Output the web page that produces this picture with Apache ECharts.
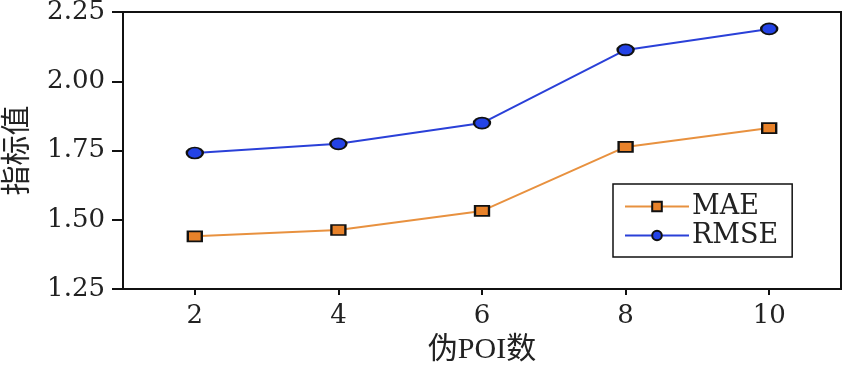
<!DOCTYPE html>
<html>
<head>
<meta charset="utf-8">
<script src="https://cdn.jsdelivr.net/npm/echarts@6/dist/echarts.min.js"></script>
<style>html,body{margin:0;padding:0;background:#fff;}#c{width:846px;height:367px;}</style>
</head>
<body>
<div id="c"></div>
<script>
var xValues = [2, 4, 6, 8, 10];
var maeValues = [1.44, 1.463, 1.532, 1.763, 1.831];
var rmseValues = [1.741, 1.774, 1.849, 2.113, 2.189];
var xTicks = [2, 4, 6, 8, 10];
var seriesNames = ['MAE', 'RMSE'];
var xTitle = '伪POI数';
var yTitle = '指标值';

var FONT = "'DejaVu Serif', 'Noto Sans CJK SC', serif";
var TFONT = "'Liberation Serif', 'Noto Sans CJK SC', serif";
function pairs(xs, ys) { return xs.map(function (x, i) { return [x, ys[i]]; }); }

var chart = echarts.init(document.getElementById('c'), null, { renderer: 'canvas' });
chart.setOption({
  animation: false,
  backgroundColor: '#fff',
  grid: { left: 123, right: 5, top: 12, bottom: 78, outerBoundsMode: 'none', containLabel: false, show: true, borderColor: '#111', borderWidth: 2, backgroundColor: 'transparent' },
  xAxis: {
    type: 'value', min: 1, max: 11,
    name: xTitle, nameLocation: 'middle', nameGap: 46,
    nameTextStyle: { fontFamily: TFONT, fontSize: 30, color: '#222' },
    axisLine: { onZero: false, lineStyle: { color: '#111', width: 2 } },
    axisTick: { show: true, length: 6, lineStyle: { color: '#111', width: 2 }, customValues: xTicks },
    axisLabel: { fontFamily: FONT, fontSize: 26, color: '#222', margin: 14, customValues: xTicks },
    splitLine: { show: false }
  },
  yAxis: {
    type: 'value', min: 1.25, max: 2.25, interval: 0.25,
    name: yTitle, nameLocation: 'middle', nameGap: 90,
    nameTextStyle: { fontFamily: TFONT, fontSize: 30, color: '#222' },
    axisLine: { show: true, lineStyle: { color: '#111', width: 2 } },
    axisTick: { show: true, length: 11, lineStyle: { color: '#111', width: 2 } },
    axisLabel: { fontFamily: FONT, fontSize: 26, color: '#222', margin: 18, formatter: function (v) { return v.toFixed(2); } },
    splitLine: { show: false }
  },
  legend: {
    left: 613, top: 184,
    orient: 'vertical',
    data: seriesNames,
    itemWidth: 64, itemHeight: 12, itemGap: 2,
    padding: [9, 14, 8, 11],
    borderColor: '#111', borderWidth: 1.5, backgroundColor: '#fff',
    textStyle: { fontFamily: FONT, fontSize: 27, color: '#222', padding: [0, 0, 0, -2] }
  },
  series: [
    {
      name: seriesNames[0], type: 'line', data: pairs(xValues, maeValues),
      symbol: 'rect', symbolSize: [14, 10],
      lineStyle: { color: '#e8913f', width: 2 },
      itemStyle: { color: '#e8822a', borderColor: '#111', borderWidth: 2 },
      z: 3
    },
    {
      name: seriesNames[1], type: 'line', data: pairs(xValues, rmseValues),
      symbol: 'circle', symbolSize: [16, 11],
      lineStyle: { color: '#2a40d8', width: 2 },
      itemStyle: { color: '#2443e6', borderColor: '#111', borderWidth: 2 },
      z: 3
    }
  ]
});
</script>
</body>
</html>
